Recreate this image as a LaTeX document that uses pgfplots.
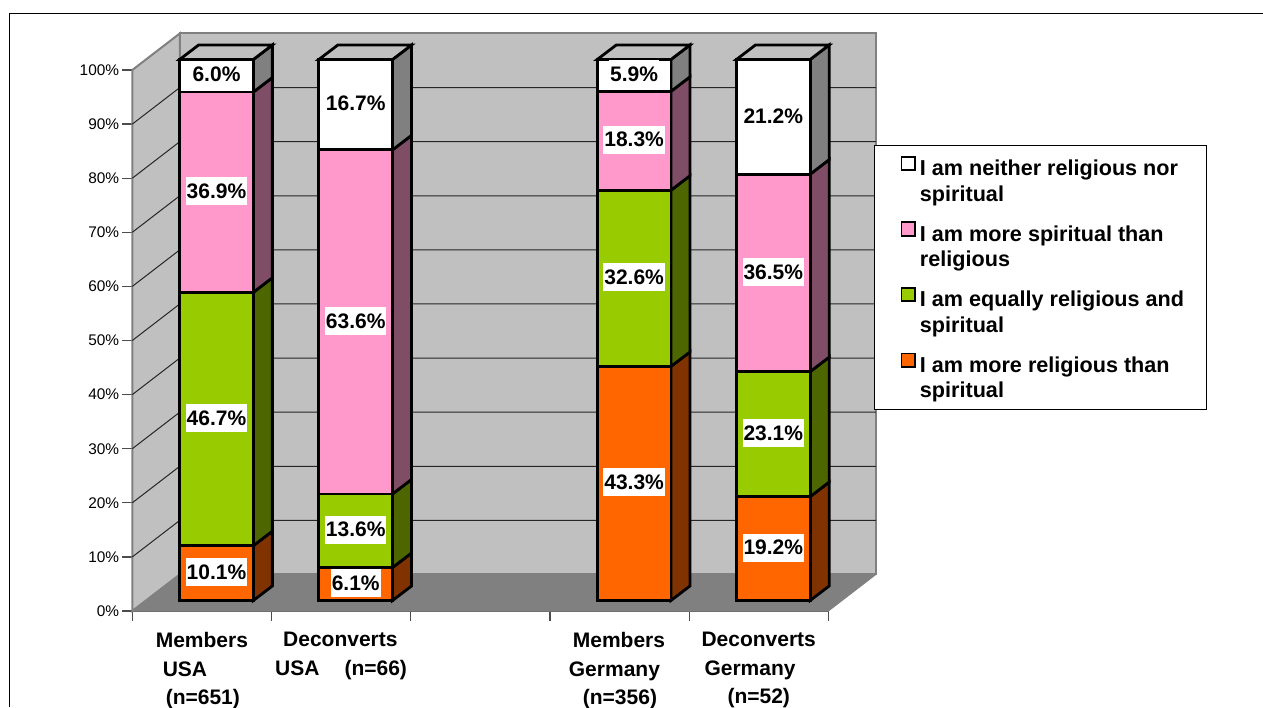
\documentclass[border=0pt]{standalone}
\usepackage{fontspec}
\setmainfont{Liberation Sans}
\usepackage{pgfplots}
\pgfplotsset{compat=1.18}

\definecolor{wall}{HTML}{C0C0C0}
\definecolor{floorc}{HTML}{808080}
\definecolor{pinkc}{HTML}{FF99CC}
\definecolor{greenc}{HTML}{99CC00}
\definecolor{orangec}{HTML}{FF6600}
\definecolor{pinkd}{HTML}{804D66}
\definecolor{greend}{HTML}{4D6600}
\definecolor{oranged}{HTML}{803300}

% one side face of a bar: right edge x, from y to y, colour
\newcommand\barside[4]{%
  \pgfmathsetmacro\xb{#1+0.1365}%
  \pgfmathsetmacro\ya{#2+2.68}%
  \pgfmathsetmacro\yb{#3+2.68}%
  \edef\temp{\noexpand\addplot[fill=#4,draw=black,line width=2.8pt,line join=miter] coordinates {(#1,#2)(#1,#3)(\xb,\yb)(\xb,\ya)} -- cycle;}\temp}
% top face: left edge x
\newcommand\bartop[1]{%
  \pgfmathsetmacro\xr{#1+0.5294}%
  \pgfmathsetmacro\xc{#1+0.1365}%
  \pgfmathsetmacro\xd{#1+0.6659}%
  \edef\temp{\noexpand\addplot[fill=wall,draw=black,line width=2.8pt] coordinates {(#1,100)(\xr,100)(\xd,102.68)(\xc,102.68)} -- cycle;}\temp}

\pgfplotsset{flat/.style={scale only axis,width=696pt,height=541pt,xmin=0,xmax=5,ymin=0,ymax=100,clip=false,no markers}}
\tikzset{lab/.style={fill=white,inner sep=1pt,minimum height=28pt,yshift=1pt,font=\fontsize{21}{25}\selectfont\bfseries}}

\begin{document}
\begin{tikzpicture}
\useasboundingbox (0,0) rectangle (1263pt,707pt);
\draw[line width=1.3pt] (9.5pt,0pt) -- (9.5pt,693.3pt) -- (1263pt,693.3pt);

% walls, floor, ticks
\begin{axis}[flat,at={(132.3pt,96pt)},anchor=south west,
  axis lines*=left,axis line style={draw=black!70,line width=1.4pt,-},
  tick style={draw=black!70,line width=1.2pt},tick align=outside,major tick length=10pt,
  ytick={0,10,...,100},yticklabel={\pgfmathprintnumber{\tick}\%},
  /pgf/number format/assume math mode=true,
  yticklabel style={font=\fontsize{15.4}{18}\selectfont,inner sep=0pt,xshift=-3pt},
  xtick={0,...,5},xticklabels={},
  extra x ticks={0.5,1.5,3.5,4.5},
  extra x tick labels={{\hspace*{0pt}Members\\\hspace*{7pt}USA\\\hspace*{10pt}(n=651)},
    {\hspace*{8pt}Deconverts\\USA\hspace*{25pt}(n=66)},
    {\hspace*{4pt}Members\hspace*{5pt}\\Germany\\\hspace*{14pt}(n=356)},
    {Deconverts\\\hspace*{3pt}Germany\\\hspace*{26pt}(n=52)}},
  extra x tick style={major tick length=0pt,xticklabel style={align=left,anchor=north,yshift=-18pt,
    font=\fontsize{21}{28.3}\selectfont\bfseries}},
]
\addplot[fill=wall,draw=floorc,line width=2pt] coordinates {(0.341,6.75)(0.341,106.75)(5.341,106.75)(5.341,6.75)} -- cycle;
\addplot[fill=wall,draw=floorc,line width=2pt] coordinates {(0,0)(0,100)(0.341,106.75)(0.341,6.75)} -- cycle;
\addplot[fill=floorc,draw=floorc,line width=1pt] coordinates {(0,0)(0.341,6.75)(5.341,6.75)(5,0)} -- cycle;
\addplot[draw=black!85,line width=1pt,unbounded coords=jump] coordinates {
  (0,10)(0.341,16.75)(5.341,16.75)(nan,nan)
  (0,20)(0.341,26.75)(5.341,26.75)(nan,nan)
  (0,30)(0.341,36.75)(5.341,36.75)(nan,nan)
  (0,40)(0.341,46.75)(5.341,46.75)(nan,nan)
  (0,50)(0.341,56.75)(5.341,56.75)(nan,nan)
  (0,60)(0.341,66.75)(5.341,66.75)(nan,nan)
  (0,70)(0.341,76.75)(5.341,76.75)(nan,nan)
  (0,80)(0.341,86.75)(5.341,86.75)(nan,nan)
  (0,90)(0.341,96.75)(5.341,96.75)};
\end{axis}

% side and top faces of the bars
\begin{axis}[flat,hide axis,at={(146.9pt,106.5pt)},anchor=south west]
\barside{0.7647}{0}{10.13}{oranged}
\barside{0.7647}{10.13}{56.97}{greend}
\barside{0.7647}{56.97}{93.98}{pinkd}
\barside{0.7647}{93.98}{100}{floorc}
\bartop{0.2353}
\barside{1.7647}{0}{6.1}{oranged}
\barside{1.7647}{6.1}{19.7}{greend}
\barside{1.7647}{19.7}{83.3}{pinkd}
\barside{1.7647}{83.3}{100}{floorc}
\bartop{1.2353}
\barside{3.7647}{0}{43.26}{oranged}
\barside{3.7647}{43.26}{75.83}{greend}
\barside{3.7647}{75.83}{94.11}{pinkd}
\barside{3.7647}{94.11}{100}{floorc}
\bartop{3.2353}
\barside{4.7647}{0}{19.2}{oranged}
\barside{4.7647}{19.2}{42.3}{greend}
\barside{4.7647}{42.3}{78.8}{pinkd}
\barside{4.7647}{78.8}{100}{floorc}
\bartop{4.2353}
\end{axis}

% front faces, legend
\begin{axis}[flat,hide axis,at={(146.9pt,106.5pt)},anchor=south west,
  ybar stacked,bar width=73.7pt,
  legend image code/.code={\path[draw=none,fill=none] (0pt,0pt) -- (44pt,0pt);\draw[#1,draw=black,line width=1.8pt] (27.5pt,10pt) rectangle (41pt,23.5pt);},
  reverse legend,legend cell align=left,
  legend style={at={(1.044,0.842)},anchor=north west,draw=black,line width=0.9pt,fill=white,
    font=\fontsize{21.6}{25.5}\selectfont\bfseries,inner xsep=0pt,inner ysep=10.5pt,
    nodes={text depth=25pt},row sep=18.8pt},
]
\addplot[fill=orangec,draw=black,line width=2.8pt] coordinates {(0.5,10.13)(1.5,6.1)(3.5,43.26)(4.5,19.2)};
\addplot[fill=greenc,draw=black,line width=2.8pt] coordinates {(0.5,46.84)(1.5,13.6)(3.5,32.57)(4.5,23.1)};
\addplot[fill=pinkc,draw=black,line width=2.8pt] coordinates {(0.5,37.01)(1.5,63.6)(3.5,18.28)(4.5,36.5)};
\addplot[fill=white,draw=black,line width=2.8pt] coordinates {(0.5,6.02)(1.5,16.7)(3.5,5.89)(4.5,21.2)};
\addlegendentry{\parbox[t]{284pt}{I am more religious than\\spiritual}}
\addlegendentry{\parbox[t]{284pt}{I am equally religious and\\spiritual}}
\addlegendentry{\parbox[t]{284pt}{I am more spiritual than\\religious}}
\addlegendentry{\parbox[t]{284pt}{I am neither religious nor\\spiritual}}
\end{axis}

% value labels
\begin{axis}[flat,hide axis,at={(146.9pt,106.5pt)},anchor=south west]
\node[lab] at (axis cs:0.5,5.05) {10.1\%};
\node[lab] at (axis cs:0.5,33.55) {46.7\%};
\node[lab] at (axis cs:0.5,75.5) {36.9\%};
\node[lab] at (axis cs:0.5,97) {6.0\%};
\node[lab] at (axis cs:1.5,3.05) {6.1\%};
\node[lab] at (axis cs:1.5,12.9) {13.6\%};
\node[lab] at (axis cs:1.5,51.5) {63.6\%};
\node[lab] at (axis cs:1.5,91.65) {16.7\%};
\node[lab] at (axis cs:3.5,21.65) {43.3\%};
\node[lab] at (axis cs:3.5,59.55) {32.6\%};
\node[lab] at (axis cs:3.5,85) {18.3\%};
\node[lab] at (axis cs:3.5,97.05) {5.9\%};
\node[lab] at (axis cs:4.5,9.6) {19.2\%};
\node[lab] at (axis cs:4.5,30.75) {23.1\%};
\node[lab] at (axis cs:4.5,60.55) {36.5\%};
\node[lab] at (axis cs:4.5,89.4) {21.2\%};
\end{axis}
\end{tikzpicture}
\end{document}
